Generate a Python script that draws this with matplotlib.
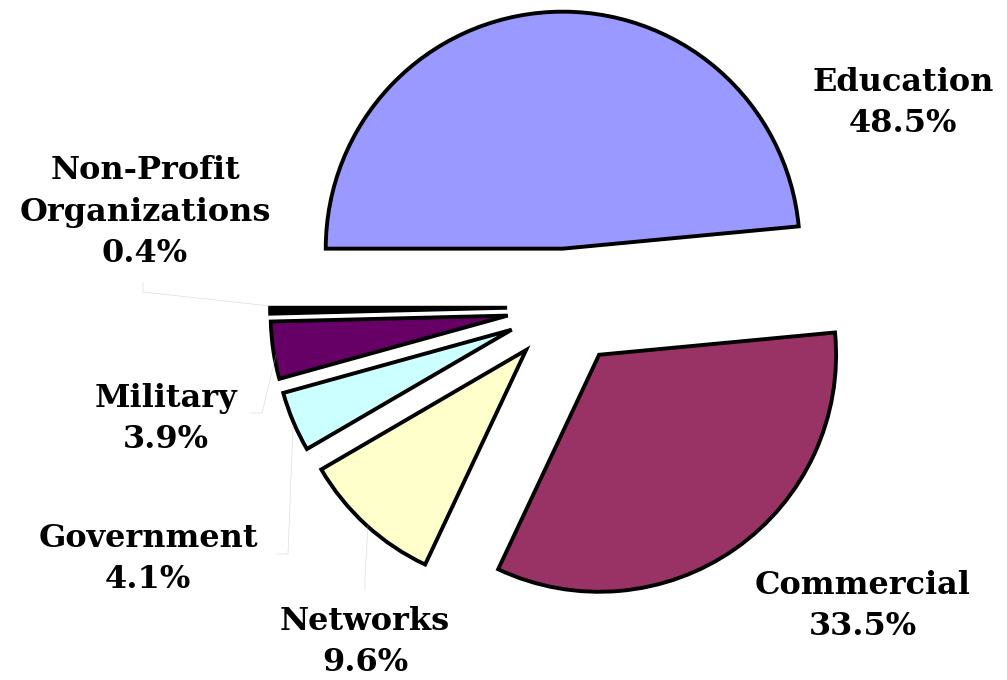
import matplotlib
matplotlib.use("Agg")
import matplotlib.pyplot as plt

# data
labels = ["Education", "Commercial", "Networks", "Government", "Military",
          "Non-Profit\nOrganizations"]
shares = [48.5, 33.5, 9.6, 4.1, 3.9, 0.4]
colors = ["#9999FF", "#993366", "#FFFFCC", "#CCFFFF", "#660066", "#000000"]

# label placement (pixel coords, y from top)
label_pos = [(903, 103), (863, 606), (365, 642), (148, 559), (166, 419), (145, 212)]

W, H = 1007, 680
fig = plt.figure(figsize=(W / 100, H / 100), dpi=100)
ax = fig.add_axes([0, 0, 1, 1])

# explode is in data units (pixels here)
ax.pie(shares, colors=colors, startangle=180, counterclock=False,
       explode=[58.4] * len(shares), radius=237, center=(565.5, H - 307),
       wedgeprops=dict(edgecolor="black", linewidth=2.8, joinstyle="miter"))

# faint leader lines like the original
leaders = [
    [(143, 283), (143, 292), (270, 306)],
    [(250, 413), (262, 413), (276, 355)],
    [(277, 554), (288, 554), (293, 425)],
    [(365, 590), (365, 577), (368, 525)],
]
for pts in leaders:
    xs = [p[0] for p in pts]
    ys = [H - p[1] for p in pts]
    ax.plot(xs, ys, color="#bbbbbb", lw=0.5, alpha=0.5)

for lab, val, (x, y) in zip(labels, shares, label_pos):
    ax.text(x, H - y, f"{lab}\n{val}%", ha="center", va="center",
            fontsize=23, fontweight="bold", family="DejaVu Serif",
            linespacing=1.45)

ax.set_xlim(0, W)
ax.set_ylim(0, H)
ax.set_aspect("equal")
ax.axis("off")

fig.savefig("out.png", dpi=100)
